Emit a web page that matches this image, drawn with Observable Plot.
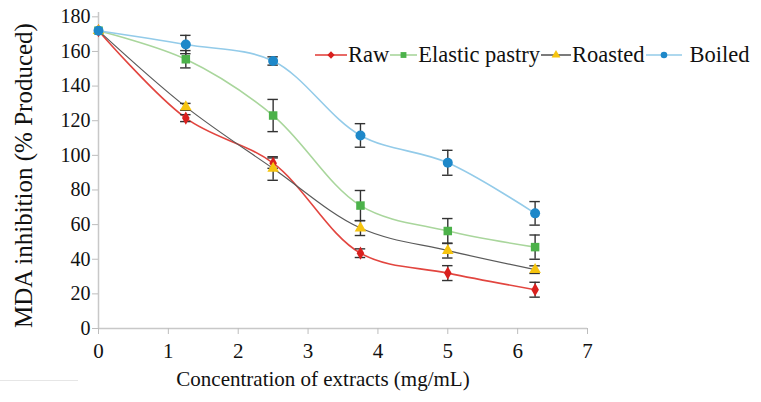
<!DOCTYPE html>
<html>
<head>
<meta charset="utf-8">
<script src="https://cdn.jsdelivr.net/npm/d3@7"></script>
<script src="https://cdn.jsdelivr.net/npm/@observablehq/plot@0.6"></script>
<style>
  html, body { margin: 0; padding: 0; background: #fff; }
  #wrap { position: relative; width: 761px; height: 402px; font-family: "Liberation Serif", Tinos, "DejaVu Serif", serif; }
  #wrap svg text { font-family: "Liberation Serif", Tinos, "DejaVu Serif", serif !important; }
  #legend { position: absolute; left: 315px; top: 42px; display: flex; align-items: center; font-size: 22.5px; color: #111; white-space: nowrap; }
  #legend .item { display: flex; align-items: center; }
  #legend svg { display: block; }
  #legend span { margin: 0 1px 0 1px; font-family: "Liberation Serif", Tinos, "DejaVu Serif", serif !important; }
  #foot { position: absolute; left: 0; top: 380px; width: 78px; height: 1px; background: #e6e6e6; }
</style>
</head>
<body>
<div id="wrap"><div id="legend"></div><div id="foot"></div></div>
<script>
// ---- data ----
const concentrations = [0, 1.25, 2.5, 3.75, 5, 6.25];
const seriesNames = ["Raw", "Elastic pastry", "Roasted", "Boiled"];
const rawValues      = [172, 121.5, 95.5, 43.5, 32, 22.4];
const rawErrors      = [1, 2, 3, 2.5, 4.3, 4.3];
const elasticValues  = [172, 155.5, 123, 71, 56.3, 47];
const elasticErrors  = [1, 5, 9.3, 8.7, 7.2, 7];
const roastedValues  = [172, 128, 92.4, 58, 45, 34];
const roastedErrors  = [1, 2, 6.8, 4.3, 4.3, 2.2];
const boiledValues   = [172, 164, 154.5, 111.5, 95.7, 66.5];
const boiledErrors   = [1, 5.3, 2.4, 6.8, 7.2, 6.8];
const xTicks = [0, 1, 2, 3, 4, 5, 6, 7];
const yTicks = [0, 20, 40, 60, 80, 100, 120, 140, 160, 180];

const valuesBy = {"Raw": rawValues, "Elastic pastry": elasticValues, "Roasted": roastedValues, "Boiled": boiledValues};
const errorsBy = {"Raw": rawErrors, "Elastic pastry": elasticErrors, "Roasted": roastedErrors, "Boiled": boiledErrors};
const lineColor = {"Raw": "#e2453f", "Elastic pastry": "#a9d69c", "Roasted": "#5a5a5a", "Boiled": "#93cbe9"};
const dotColor  = {"Raw": "#d9201e", "Elastic pastry": "#4cb24a", "Roasted": "#f6c40f", "Boiled": "#1e88c9"};
const dotSymbol = {"Raw": "diamond", "Elastic pastry": "square", "Roasted": "triangle", "Boiled": "circle"};
const dotSize   = {"Raw": 4, "Elastic pastry": 4.8, "Roasted": 4.3, "Boiled": 5};

const data = seriesNames.flatMap(s => concentrations.map((c, i) => ({
  series: s, x: c, y: valuesBy[s][i], e: errorsBy[s][i]
})));
const withErr = data.filter(d => d.x > 0);

const FONT = "'Liberation Serif', Tinos, 'DejaVu Serif', serif";
const capHalf = 0.075;
const marks = [
  Plot.ruleY([0], {stroke: "#c8c8c8", strokeWidth: 1.5}),
  Plot.ruleX([0], {stroke: "#c8c8c8", strokeWidth: 1.5}),
  Plot.axisX({ticks: xTicks, tickFormat: d => String(d), tickSize: 6, stroke: "#bdbdbd", fill: "#111", tickPadding: 9, fontSize: 21, fontFamily: FONT, label: null}),
  Plot.axisY({ticks: yTicks, tickFormat: d => String(d), tickSize: 6, stroke: "#bdbdbd", fill: "#111", tickPadding: 2, fontSize: 20, fontFamily: FONT, label: null}),
  ...seriesNames.map(s => Plot.line(data.filter(d => d.series === s), {
    x: "x", y: "y", stroke: lineColor[s], strokeWidth: s === "Roasted" ? 1.2 : 1.6, curve: "catmull-rom"
  })),
  Plot.ruleX(withErr, {x: "x", y1: d => d.y - d.e, y2: d => d.y + d.e, stroke: "#333", strokeWidth: 1.4}),
  Plot.ruleY(withErr, {y: d => d.y - d.e, x1: d => d.x - capHalf, x2: d => d.x + capHalf, stroke: "#333", strokeWidth: 1.4}),
  Plot.ruleY(withErr, {y: d => d.y + d.e, x1: d => d.x - capHalf, x2: d => d.x + capHalf, stroke: "#333", strokeWidth: 1.4}),
  ...seriesNames.map(s => Plot.dot(data.filter(d => d.series === s), {
    x: "x", y: "y", fill: dotColor[s], symbol: dotSymbol[s], r: dotSize[s]
  })),
  Plot.text(["Concentration of extracts (mg/mL)"], {frameAnchor: "bottom", dy: 57, dx: -20, fontSize: 21, fontFamily: FONT, fill: "#111"}),
  Plot.text(["MDA inhibition (% Produced)"], {frameAnchor: "left", textAnchor: "middle", rotate: -90, dx: -75, dy: 5, fontSize: 25, fontFamily: FONT, fill: "#111"})
];

const chart = Plot.plot({
  width: 761,
  height: 402,
  marginLeft: 98,
  marginRight: 174,
  marginTop: 12,
  marginBottom: 74,
  style: {fontFamily: FONT, background: "#fff", overflow: "visible"},
  x: {domain: [0, 7], axis: null},
  y: {domain: [0, 182.5], axis: null},
  marks
});
document.getElementById("wrap").prepend(chart);
chart.style.position = "absolute";
chart.style.left = "0";
chart.style.top = "0";

// legend
const symbolMap = {"diamond": d3.symbolDiamond2, "square": d3.symbolSquare, "triangle": d3.symbolTriangle, "circle": d3.symbolCircle};
const legendWidths = [32, 27, 30, 36];
const legend = document.getElementById("legend");
seriesNames.forEach((s, i) => {
  const item = document.createElement("div");
  item.className = "item";
  const w = legendWidths[i];
  const sym = d3.create("svg").attr("width", w).attr("height", 20);
  sym.append("line").attr("x1", 0).attr("x2", w).attr("y1", 10).attr("y2", 10)
    .attr("stroke", lineColor[s]).attr("stroke-width", 1.6);
  sym.append("path").attr("transform", `translate(${w / 2},10)`)
    .attr("d", d3.symbol(symbolMap[dotSymbol[s]], 34)())
    .attr("fill", dotColor[s]);
  item.appendChild(sym.node());
  const t = document.createElement("span");
  t.textContent = s;
  if (i === 3) t.style.marginLeft = "8px";
  item.appendChild(t);
  legend.appendChild(item);
});
</script>
</body>
</html>
